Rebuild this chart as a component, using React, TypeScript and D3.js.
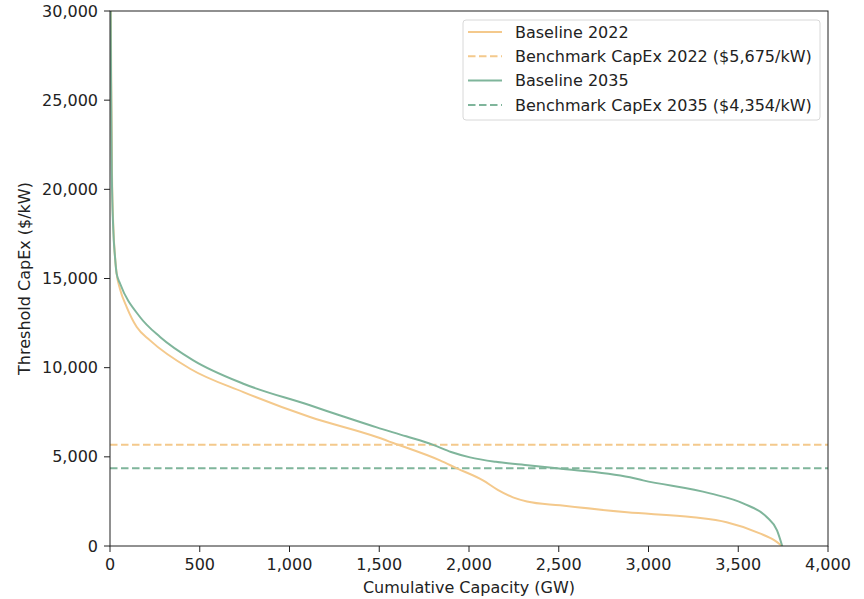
import React from "react";
import * as d3 from "d3";

// Cumulative capacity (GW) vs threshold CapEx ($/kW)
const gw2022 = [4, 7, 11, 19, 28, 37, 56, 93, 149, 223, 446, 743, 1114, 1486, 1578, 1838, 1933, 2078, 2160, 2245, 2323, 2507, 2880, 3250, 3435, 3620, 3700, 3744];
const capex2022 = [31000, 26000, 21000, 17800, 16200, 15270, 14400, 13400, 12280, 11530, 9940, 8630, 7230, 6110, 5775, 4800, 4354, 3680, 3150, 2730, 2500, 2280, 1890, 1610, 1330, 710, 330, 0];

const gw2035 = [3, 6, 10, 18, 28, 37, 56, 167, 279, 464, 743, 1114, 1300, 1486, 1650, 1800, 1900, 2006, 2150, 2340, 2490, 2897, 2970, 3343, 3527, 3660, 3716, 3745];
const capex2035 = [31000, 26000, 21000, 17800, 16200, 15270, 14720, 12840, 11720, 10410, 9100, 7890, 7260, 6650, 6150, 5670, 5270, 4970, 4720, 4520, 4354, 3850, 3680, 2950, 2390, 1610, 880, 0];

const benchmark2022 = 5675;
const benchmark2035 = 4354;

const xTicks = [0, 500, 1000, 1500, 2000, 2500, 3000, 3500, 4000];
const yTicks = [0, 5000, 10000, 15000, 20000, 25000, 30000];

const orange = "#f4c98c";
const green = "#7fb59b";

const legendItems = [
  { label: "Baseline 2022", color: orange, dashed: false },
  { label: "Benchmark CapEx 2022 ($5,675/kW)", color: orange, dashed: true },
  { label: "Baseline 2035", color: green, dashed: false },
  { label: "Benchmark CapEx 2035 ($4,354/kW)", color: green, dashed: true },
];

const App = () => {
  const width = 864;
  const height = 599;
  const left = 110;
  const right = 828;
  const top = 11;
  const bottom = 546;
  const fs = 16;

  const x = d3.scaleLinear().domain([0, 4000]).range([left, right]);
  const y = d3.scaleLinear().domain([0, 30000]).range([bottom, top]);

  const line = d3
    .line<[number, number]>()
    .x((d) => x(d[0]))
    .y((d) => y(d[1]))
    .curve(d3.curveMonotoneX);

  const path2022 = line(gw2022.map((g, i) => [g, capex2022[i]]));
  const path2035 = line(gw2035.map((g, i) => [g, capex2035[i]]));

  const fmt = d3.format(",");
  const font = "DejaVu Sans, sans-serif";

  return (
    <svg
      width={width}
      height={height}
      style={{ position: "absolute", left: 0, top: 0 }}
      fontFamily={font}
    >
      <rect width={width} height={height} fill="white" />
      <defs>
        <clipPath id="plot">
          <rect x={left} y={top} width={right - left} height={bottom - top} />
        </clipPath>
      </defs>

      <g clipPath="url(#plot)">
        <line x1={left} x2={right} y1={y(benchmark2022)} y2={y(benchmark2022)} stroke={orange} strokeWidth={2} strokeDasharray="7.5,3.5" />
        <line x1={left} x2={right} y1={y(benchmark2035)} y2={y(benchmark2035)} stroke={green} strokeWidth={2} strokeDasharray="7.5,3.5" />
        <path d={path2022 ?? ""} fill="none" stroke={orange} strokeWidth={2} />
        <path d={path2035 ?? ""} fill="none" stroke={green} strokeWidth={2} />
      </g>

      {/* Frame */}
      <rect x={left} y={top} width={right - left} height={bottom - top} fill="none" stroke="#222" strokeWidth={1} />

      {/* X ticks */}
      {xTicks.map((t) => (
        <g key={t} transform={`translate(${x(t)}, ${bottom})`}>
          <line y2={6} stroke="#222" />
          <text y={24} textAnchor="middle" fontSize={fs} fill="#222">
            {fmt(t)}
          </text>
        </g>
      ))}

      {/* Y ticks */}
      {yTicks.map((t) => (
        <g key={t} transform={`translate(${left}, ${y(t)})`}>
          <line x2={-6} stroke="#222" />
          <text x={-12} dy="0.35em" textAnchor="end" fontSize={fs} fill="#222">
            {fmt(t)}
          </text>
        </g>
      ))}

      <text x={(left + right) / 2} y={593} textAnchor="middle" fontSize={fs} fill="#222">
        Cumulative Capacity (GW)
      </text>
      <text
        transform={`translate(30, ${(top + bottom) / 2}) rotate(-90)`}
        textAnchor="middle"
        fontSize={fs}
        fill="#222"
      >
        Threshold CapEx ($/kW)
      </text>

      {/* Legend */}
      <g>
        <rect x={463} y={20} width={357} height={100} rx={3} fill="white" fillOpacity={0.8} stroke="#d8d8d8" />
        {legendItems.map((item, i) => (
          <g key={item.label} transform={`translate(468, ${32 + i * 24.3})`}>
            <line x2={34} stroke={item.color} strokeWidth={2} strokeDasharray={item.dashed ? "7.5,3.5" : undefined} />
            <text x={47} dy="0.35em" fontSize={fs} fill="#222">
              {item.label}
            </text>
          </g>
        ))}
      </g>
    </svg>
  );
};

export default App;
